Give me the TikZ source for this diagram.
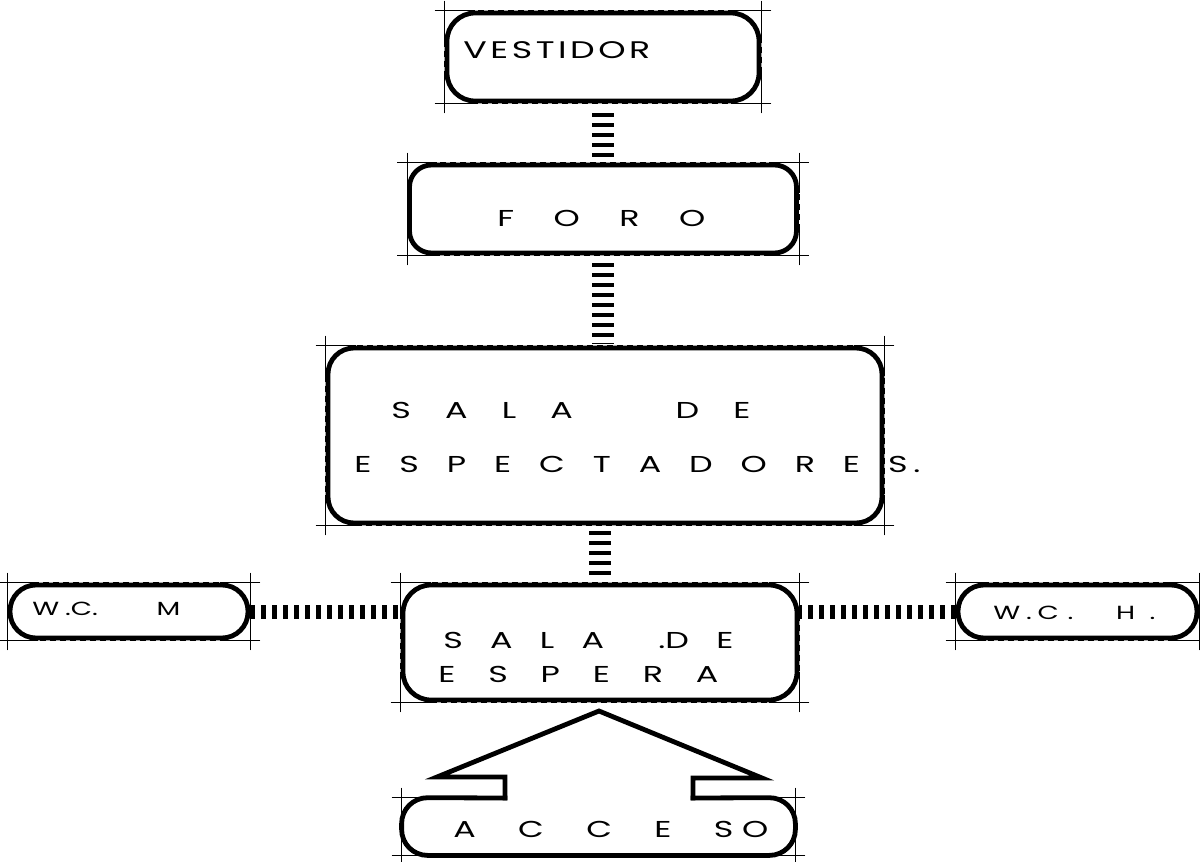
\documentclass[tikz,border=0pt]{standalone}
\usepackage{fontspec}
\setmainfont{Poppins}
\usepackage{graphicx}
\usepackage{tikz}

% letters stretched over a given width, drawn wide
\newcommand{\spread}[2]{\scalebox{1.45}[1]{\makebox[\dimexpr#1*20/29\relax][s]{#2}}}

\begin{document}
\begin{tikzpicture}[
  x=0.5pt,
  y=-0.5pt,
  box/.style={draw, line width=2.4pt, inner sep=0pt, rounded corners=12pt},
  wall/.style={line width=2.4pt, line join=miter, line cap=rect},
  lbl/.style={inner sep=0pt, anchor=base west, font=\fontsize{11.5}{13}\selectfont},
  ladderv/.style={line width=11pt, dash pattern=on 2pt off 3pt},
  ladderh/.style={line width=7pt, dash pattern=on 2.2pt off 3.3pt},
  reg/.style={line width=0.3pt}
]
  \useasboundingbox (0,0) rectangle (1200,862);

  % rooms
  \node[box, minimum width=156pt, minimum height=44pt, rounded corners=14pt]
    (vestidor) at (603,57) {};
  \node[box, minimum width=193.5pt, minimum height=44pt, rounded corners=11pt]
    (foro) at (603,209) {};
  \node[box, minimum width=277pt, minimum height=87.5pt, rounded corners=13pt]
    (espect) at (605,435.5) {};
  \node[box, minimum width=197pt, minimum height=57.5pt, rounded corners=14pt]
    (espera) at (600,642.5) {};
  \node[box, minimum width=119pt, minimum height=26.5pt, rounded corners=13pt]
    (wcm) at (129,611.5) {};
  \node[box, minimum width=119.5pt, minimum height=26.5pt, rounded corners=13pt]
    (wch) at (1077.5,611.5) {};
  \node[inner sep=0pt, minimum width=196.5pt, minimum height=28.5pt]
    (acceso) at (598.5,826.5) {};

  % acceso with its arrow
  \draw[wall, rounded corners=13pt] (505,798) -- (acceso.north west)
    -- (acceso.south west) -- (acceso.south east) -- (acceso.north east) -- (693,798);
  \draw[wall] (505,798) -- (505,777) -- (437,777) -- (599,711)
    -- (762,778) -- (693,778) -- (693,798);

  % labels
  \node[lbl, font=\fontsize{12}{14}\selectfont] (vestidor text) at (463,58)
    {\spread{93.5pt}{V\hfil E\hfil S\hfil T\hfil I\hfil D\hfil O\hfil R}};
  \node[lbl] (foro text) at (497,226) {\spread{104pt}{F\hfil O\hfil R\hfil O}};
  \node[lbl] (espect text a) at (391,418)
    {\spread{179.5pt}{S\hfil A\hfil L\hfil A\hfil\hfil\hfil D\hfil E}};
  \node[lbl] (espect text b) at (354,472)
    {\spread{283pt}{E\hfil S\hfil P\hfil E\hfil C\hfil T\hfil A\hfil D\hfil O\hfil R\hfil E\hfil S\kern2pt.}};
  \node[lbl] (espera text a) at (443,648)
    {\spread{145pt}{S\hfil A\hfil L\hfil A\hfil\hfil .D\hfil E}};
  \node[lbl] (espera text b) at (438,682)
    {\spread{140pt}{E\hfil S\hfil P\hfil E\hfil R\hfil A}};
  \node[lbl, font=\fontsize{9.5}{12}\selectfont] (wcm text) at (32,615)
    {\spread{74pt}{W\kern2pt.C.\hfil M}};
  \node[lbl, font=\fontsize{9.5}{12}\selectfont] (wch text) at (993,619)
    {\spread{81pt}{W\kern2pt.\kern2pt C\kern3pt.\hfil H\kern5pt.}};
  \node[lbl] (acceso text) at (453,837)
    {\spread{157.5pt}{A\hfil C\hfil C\hfil E\hfil S\kern3pt O}};

  % links
  \draw[ladderv, shorten <=5pt, shorten >=1pt] (vestidor.south) -- (foro.north);
  \draw[ladderv, shorten <=4pt, shorten >=1pt] (foro.south) -- (foro.south |- espect.north);
  \draw[ladderv, shorten <=3pt, shorten >=2pt] (espera.north |- espect.south) -- (espera.north);
  \draw[ladderh] (wcm.east) -- (wcm.east -| espera.west);
  \draw[ladderh] (wch.west) -- (wch.west -| espera.east);

  % register marks
  \foreach \b in {vestidor,foro,espect,espera,wcm,wch}
    \draw[reg, densely dashed] (\b.north west) rectangle (\b.south east);
  \draw[reg, densely dashed] (acceso.north west) -- (acceso.south west)
    -- (acceso.south east) -- (acceso.north east);
  \foreach \b in {vestidor,foro,espect,espera,wcm,wch,acceso} {
    \foreach \a/\sx/\sy in {north west/1/1,north east/-1/1,south west/1/-1,south east/-1/-1} {
      \draw[reg] ([shift={(-10*\sx,0)}]\b.\a) -- ([shift={(30*\sx,0)}]\b.\a);
      \draw[reg] ([shift={(0,-10*\sy)}]\b.\a) -- ([shift={(0,30*\sy)}]\b.\a);
    }
  }
\end{tikzpicture}
\end{document}
